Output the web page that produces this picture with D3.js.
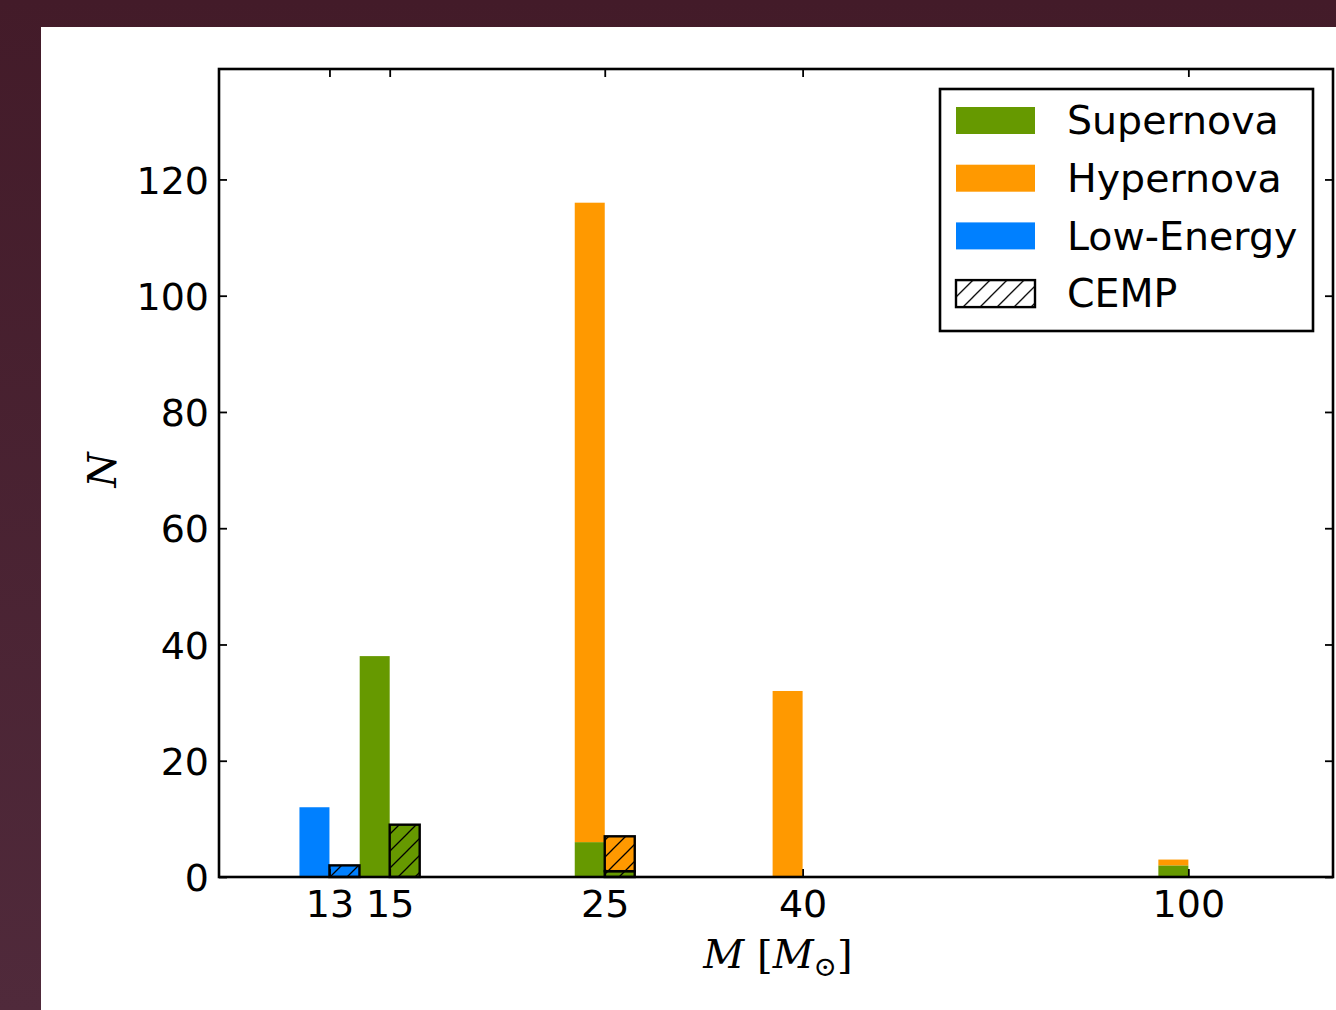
<!DOCTYPE html>
<html>
<head>
<meta charset="utf-8">
<script src="https://cdn.jsdelivr.net/npm/d3@7"></script>
<style>
  html, body { margin: 0; padding: 0; }
  body { width: 1336px; height: 1010px; overflow: hidden; }
</style>
</head>
<body>
<svg id="chart" width="1336" height="1010"></svg>
<script>
// ---- data ----
const masses = [13, 15, 25, 40, 100];
const massTicks = [13, 15, 25, 40, 100];
const yTicks = [0, 20, 40, 60, 80, 100, 120];
const seriesNames = ["Supernova", "Hypernova", "Low-Energy"];
const lowEnergy = [12, 0, 0, 0, 0];
const supernova = [0, 38, 6, 0, 2];
const hypernova = [0, 0, 110, 32, 1];
const cempLowEnergy = [2, 0, 0, 0, 0];
const cempSupernova = [0, 9, 1, 0, 0];
const cempHypernova = [0, 0, 6, 0, 0];
const legendLabels = ["Supernova", "Hypernova", "Low-Energy", "CEMP"];

// ---- style ----
const colors = { "Supernova": "#669900", "Hypernova": "#ff9900", "Low-Energy": "#0080ff" };
const svg = d3.select("#chart");
const W = 1336, H = 1010;

// background
const defs = svg.append("defs");
const grad = defs.append("linearGradient").attr("id", "bg").attr("x1", 0).attr("y1", 0).attr("x2", 0).attr("y2", 1);
grad.append("stop").attr("offset", "0%").attr("stop-color", "#431b29");
grad.append("stop").attr("offset", "100%").attr("stop-color", "#502a3b");
svg.append("rect").attr("width", W).attr("height", H).attr("fill", "url(#bg)");
svg.append("rect").attr("x", 41).attr("y", 27).attr("width", W - 41).attr("height", H - 27).attr("fill", "#fff");

const hs = 17;
const hatch = defs.append("pattern").attr("id", "hatch")
  .attr("patternUnits", "userSpaceOnUse").attr("width", hs).attr("height", hs);
hatch.append("path")
  .attr("d", `M0,${hs} L${hs},0 M${-hs/4},${hs/4} L${hs/4},${-hs/4} M${hs*0.75},${hs*1.25} L${hs*1.25},${hs*0.75}`)
  .attr("stroke", "#000").attr("stroke-width", 1.3).attr("fill", "none");

const plot = { left: 219, right: 1333, top: 69, bottom: 877 };
const x = d3.scaleLog().domain([10, 141]).range([plot.left, plot.right]);
const y = d3.scaleLinear().domain([0, 139]).range([plot.bottom, plot.top]);
const bw = 30;

const g = svg.append("g");

const mainStack = [
  { name: "Low-Energy", vals: lowEnergy },
  { name: "Supernova", vals: supernova },
  { name: "Hypernova", vals: hypernova }
];
const cempStack = [
  { name: "Low-Energy", vals: cempLowEnergy },
  { name: "Supernova", vals: cempSupernova },
  { name: "Hypernova", vals: cempHypernova }
];

function stackSegs(stack) {
  const segs = [];
  masses.forEach((m, i) => {
    let base = 0;
    stack.forEach(s => {
      const v = s.vals[i];
      if (v > 0) { segs.push({ m, name: s.name, y0: base, y1: base + v }); base += v; }
    });
  });
  return segs;
}

const mainSegs = stackSegs(mainStack);
g.selectAll("rect.main").data(mainSegs).enter().append("rect")
  .attr("class", "main")
  .attr("x", d => x(d.m) - bw)
  .attr("width", bw)
  .attr("y", d => y(d.y1))
  .attr("height", d => y(d.y0) - y(d.y1))
  .attr("fill", d => colors[d.name]);

const cempSegs = stackSegs(cempStack);
const cg = g.selectAll("g.cemp").data(cempSegs).enter().append("g").attr("class", "cemp");
cg.append("rect")
  .attr("x", d => x(d.m)).attr("width", bw)
  .attr("y", d => y(d.y1)).attr("height", d => y(d.y0) - y(d.y1))
  .attr("fill", d => colors[d.name]);
cg.append("rect")
  .attr("x", d => x(d.m)).attr("width", bw)
  .attr("y", d => y(d.y1)).attr("height", d => y(d.y0) - y(d.y1))
  .attr("fill", "url(#hatch)")
  .attr("stroke", "#000").attr("stroke-width", 2.4);

// axes
const fontTick = "38px 'DejaVu Sans'";
const tickLen = 8;
const axB = svg.append("g").attr("transform", `translate(0,${plot.bottom})`)
  .call(d3.axisBottom(x).tickValues(massTicks).tickFormat(d3.format("d")).tickSizeInner(-tickLen).tickSizeOuter(0).tickPadding(10));
const axT = svg.append("g").attr("transform", `translate(0,${plot.top})`)
  .call(d3.axisTop(x).tickValues(massTicks).tickFormat("").tickSizeInner(-tickLen).tickSizeOuter(0));
const axL = svg.append("g").attr("transform", `translate(${plot.left},0)`)
  .call(d3.axisLeft(y).tickValues(yTicks).tickSizeInner(-tickLen).tickSizeOuter(0).tickPadding(10));
const axR = svg.append("g").attr("transform", `translate(${plot.right},0)`)
  .call(d3.axisRight(y).tickValues(yTicks).tickFormat("").tickSizeInner(-tickLen).tickSizeOuter(0));
[axB, axT, axL, axR].forEach(a => {
  a.select(".domain").remove();
  a.selectAll(".tick line").attr("stroke", "#000").attr("stroke-width", 1.8);
  a.selectAll("text").style("font", fontTick).attr("fill", "#000");
});
axB.selectAll(".tick text").attr("dy", "0.78em");
axL.selectAll(".tick text").attr("dy", "0.36em");

// frame
svg.append("rect")
  .attr("x", plot.left).attr("y", plot.top)
  .attr("width", plot.right - plot.left).attr("height", plot.bottom - plot.top)
  .attr("fill", "none").attr("stroke", "#000").attr("stroke-width", 2.6);

// axis labels
const xl = svg.append("text").attr("x", 778).attr("y", 968)
  .attr("text-anchor", "middle")
  .style("font", "40px 'DejaVu Serif'").attr("fill", "#000");
xl.append("tspan").style("font-style", "italic").text("M");
xl.append("tspan").text(" [");
xl.append("tspan").style("font-style", "italic").text("M");
xl.append("tspan").attr("dy", 8).style("font-size", "28px").text("⊙");
xl.append("tspan").attr("dy", -8).text("]");

svg.append("text")
  .attr("transform", "translate(116,470) rotate(-90)")
  .attr("text-anchor", "middle")
  .style("font", "italic 40px 'DejaVu Serif'").attr("fill", "#000")
  .text("N");

// legend
const lg = svg.append("g");
lg.append("rect").attr("x", 940).attr("y", 89).attr("width", 373).attr("height", 242)
  .attr("fill", "#fff").attr("stroke", "#000").attr("stroke-width", 2.6);
const items = lg.selectAll("g.item").data(legendLabels).enter().append("g")
  .attr("transform", (d, i) => `translate(956,${107 + i * 57.7})`);
items.append("rect").attr("width", 79).attr("height", 27)
  .attr("fill", d => colors[d] || "url(#hatch)")
  .attr("stroke", d => colors[d] ? "none" : "#000")
  .attr("stroke-width", 2.4);
items.append("text").attr("x", 111).attr("y", 13).attr("dy", "0.36em")
  .style("font", "39.5px 'DejaVu Sans'").attr("fill", "#000")
  .text(d => d);
</script>
</body>
</html>
